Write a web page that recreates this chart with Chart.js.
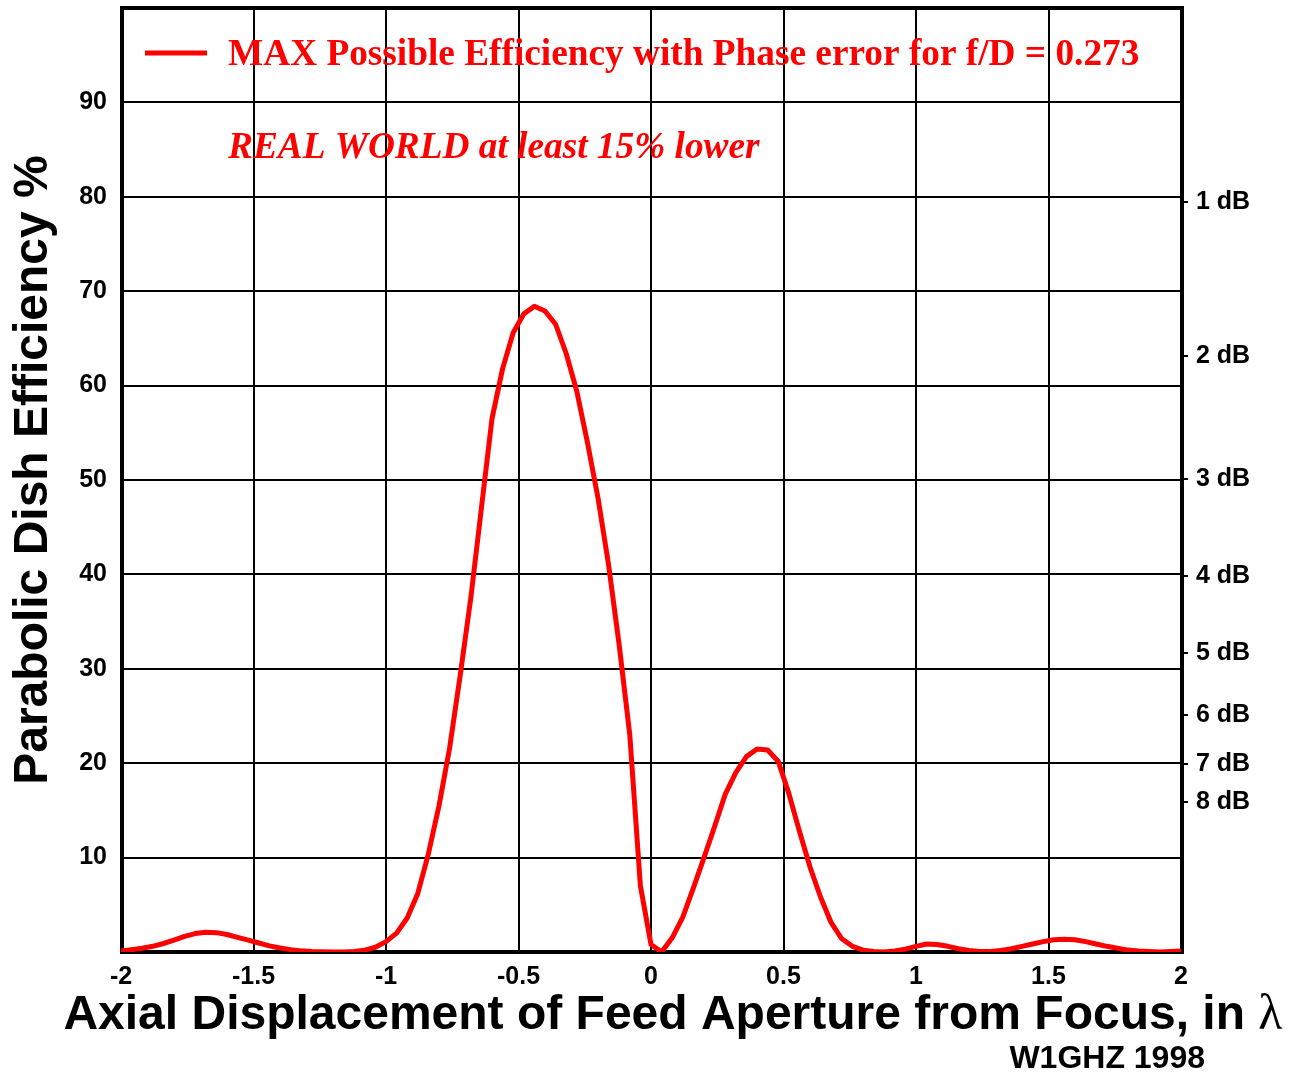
<!DOCTYPE html>
<html>
<head>
<meta charset="utf-8">
<title>Parabolic Dish Efficiency vs Axial Feed Displacement</title>
<script src="https://cdn.jsdelivr.net/npm/chart.js@4.4.0/dist/chart.umd.min.js"></script>
<style>
  html, body { margin: 0; padding: 0; background: #ffffff; }
  #wrap { width: 1301px; height: 1074px; }
</style>
</head>
<body>
<div id="wrap"><canvas id="chart" width="1301" height="1074"></canvas></div>
<script>
// Axial displacement of the feed aperture from focus, in wavelengths
const displacement = [
  -2, -1.96, -1.92, -1.88, -1.84, -1.8, -1.76, -1.72, -1.68, -1.64,
  -1.6, -1.56, -1.52, -1.48, -1.44, -1.4, -1.36, -1.32, -1.28, -1.24,
  -1.2, -1.16, -1.12, -1.08, -1.04, -1, -0.96, -0.92, -0.88, -0.84,
  -0.8, -0.76, -0.72, -0.68, -0.64, -0.6, -0.56, -0.52, -0.48, -0.44,
  -0.4, -0.36, -0.32, -0.28, -0.24, -0.2, -0.16, -0.12, -0.08, -0.04,
  0, 0.04, 0.08, 0.12, 0.16, 0.2, 0.24, 0.28, 0.32, 0.36,
  0.4, 0.44, 0.48, 0.52, 0.56, 0.6, 0.64, 0.68, 0.72, 0.76,
  0.8, 0.84, 0.88, 0.92, 0.96, 1, 1.04, 1.08, 1.12, 1.16,
  1.2, 1.24, 1.28, 1.32, 1.36, 1.4, 1.44, 1.48, 1.52, 1.56,
  1.6, 1.64, 1.68, 1.72, 1.76, 1.8, 1.84, 1.88, 1.92, 1.96, 2
];

// Maximum possible dish efficiency (%) at each displacement
const efficiency = [
  0.1, 0.25, 0.4, 0.6, 0.9, 1.25, 1.65, 1.95, 2.1, 2.05,
  1.85, 1.55, 1.25, 0.95, 0.65, 0.42, 0.25, 0.12, 0.05, 0.02,
  0, 0, 0.05, 0.2, 0.5, 1.1, 2.0, 3.6, 6.2, 10.4,
  15.5, 21.6, 29.3, 37.5, 47.0, 56.5, 61.8, 65.6, 67.6, 68.4,
  67.9, 66.5, 63.4, 59.4, 54.0, 48.1, 41.0, 32.5, 23.0, 7.0,
  0.8, 0.0, 1.5, 3.7, 6.8, 10.0, 13.3, 16.7, 19.0, 20.7,
  21.5, 21.4, 20.2, 16.8, 12.8, 9.0, 5.8, 3.1, 1.4, 0.6,
  0.2, 0.05, 0.0, 0.1, 0.3, 0.6, 0.85, 0.8, 0.6, 0.35,
  0.15, 0.05, 0.05, 0.15, 0.35, 0.6, 0.85, 1.1, 1.3, 1.35,
  1.3, 1.1, 0.85, 0.6, 0.4, 0.2, 0.1, 0.05, 0.0, 0.05, 0.1
];

const xTickValues = [-2, -1.5, -1, -0.5, 0, 0.5, 1, 1.5, 2];
const yTickValues = [10, 20, 30, 40, 50, 60, 70, 80, 90];
const dbLevels = [1, 2, 3, 4, 5, 6, 7, 8];

const seriesLabel = 'MAX Possible Efficiency with Phase error for f/D = 0.273';
const noteText = 'REAL WORLD at least 15% lower';
const yTitleText = 'Parabolic Dish Efficiency %';
const xTitleText = 'Axial Displacement of Feed Aperture from Focus, in ';
const xTitleSymbol = '\u03BB';
const creditText = 'W1GHZ 1998';

const SANS = '"Liberation Sans", Arial, Helvetica, sans-serif';
const SERIF = '"Liberation Serif", "Times New Roman", Times, serif';

const points = displacement.map((x, i) => ({ x: x, y: efficiency[i] }));

// Efficiency (%) matching a loss of n dB, used to place the right-hand labels
const dbPositions = dbLevels.map(db => 100 * Math.pow(10, -db / 10));

// Thick frame around the plot, drawn under the curve
const framePlugin = {
  id: 'frame',
  beforeDatasetsDraw(chart) {
    const { ctx, chartArea: a } = chart;
    ctx.save();
    ctx.strokeStyle = '#000';
    ctx.lineWidth = 4;
    ctx.strokeRect(a.left + 1, a.top, a.right - a.left, a.bottom - a.top);
    ctx.restore();
  }
};

// In-plot legend entry, note line, axis titles and credit
const annotationPlugin = {
  id: 'annotations',
  afterDraw(chart) {
    const { ctx } = chart;
    const ds = chart.data.datasets[0];
    ctx.save();

    // legend swatch + label
    ctx.strokeStyle = ds.borderColor;
    ctx.lineWidth = 5;
    ctx.beginPath();
    ctx.moveTo(145, 53);
    ctx.lineTo(207, 53);
    ctx.stroke();

    ctx.fillStyle = ds.borderColor;
    ctx.textBaseline = 'alphabetic';
    ctx.textAlign = 'left';
    ctx.font = 'bold 37.3px ' + SERIF;
    ctx.fillText(ds.label, 228, 65);

    ctx.font = 'italic bold 37.3px ' + SERIF;
    ctx.fillText(noteText, 228, 158);

    // y-axis title, rotated
    ctx.fillStyle = '#000';
    ctx.save();
    ctx.translate(47, 470);
    ctx.rotate(-Math.PI / 2);
    ctx.textAlign = 'center';
    ctx.font = 'bold 48px ' + SANS;
    ctx.fillText(yTitleText, 0, 0);
    ctx.restore();

    // x-axis title with a serif lambda
    const mainFont = 'bold 48px ' + SANS;
    const symFont = '50px ' + SERIF;
    ctx.font = mainFont;
    const w1 = ctx.measureText(xTitleText).width;
    ctx.font = symFont;
    const w2 = ctx.measureText(xTitleSymbol).width;
    const startX = 673 - (w1 + w2) / 2;
    ctx.textAlign = 'left';
    ctx.font = mainFont;
    ctx.fillText(xTitleText, startX, 1029);
    ctx.font = symFont;
    ctx.fillText(xTitleSymbol, startX + w1, 1029);

    // credit line
    ctx.font = 'bold 32px ' + SANS;
    ctx.textAlign = 'right';
    ctx.fillText(creditText, 1205, 1068);

    ctx.restore();
  }
};

new Chart(document.getElementById('chart'), {
  type: 'line',
  data: {
    datasets: [{
      label: seriesLabel,
      data: points,
      borderColor: '#ff0000',
      borderWidth: 5,
      pointRadius: 0,
      tension: 0,
      fill: false,
      borderJoinStyle: 'round',
      borderCapStyle: 'round'
    }]
  },
  options: {
    responsive: false,
    devicePixelRatio: 1,
    animation: false,
    layout: { padding: { left: 0, right: 0, top: 8, bottom: 0 } },
    plugins: {
      legend: { display: false },
      tooltip: { enabled: false }
    },
    scales: {
      x: {
        type: 'linear',
        min: -2,
        max: 2,
        afterBuildTicks(scale) { scale.ticks = xTickValues.map(v => ({ value: v })); },
        afterFit(scale) { scale.height = 122; },
        grid: { color: '#000', lineWidth: 2, drawTicks: false },
        border: { display: false },
        ticks: {
          color: '#000',
          font: { family: SANS, size: 25, weight: 'bold' },
          padding: 10,
          maxRotation: 0,
          autoSkip: false,
          callback: value => String(value)
        }
      },
      y: {
        type: 'linear',
        position: 'left',
        min: 0,
        max: 100,
        afterBuildTicks(scale) { scale.ticks = yTickValues.map(v => ({ value: v })); },
        afterFit(scale) { scale.width = 121; scale.paddingTop = 0; scale.paddingBottom = 0; },
        grid: { color: '#000', lineWidth: 2, drawTicks: false },
        border: { display: false },
        ticks: {
          color: '#000',
          font: { family: SANS, size: 25, weight: 'bold', lineHeight: 0.01 },
          padding: 14,
          autoSkip: false,
          callback: value => String(value)
        }
      },
      y2: {
        type: 'linear',
        position: 'right',
        min: 0,
        max: 100,
        afterBuildTicks(scale) { scale.ticks = dbPositions.map(v => ({ value: v })); },
        afterFit(scale) { scale.width = 120; scale.paddingTop = 0; scale.paddingBottom = 0; },
        grid: { drawOnChartArea: false, drawTicks: true, tickLength: 7, color: '#000', lineWidth: 2 },
        border: { display: false },
        ticks: {
          color: '#000',
          font: { family: SANS, size: 25, weight: 'bold', lineHeight: 0.01 },
          padding: 8,
          autoSkip: false,
          callback: (value, index) => dbLevels[index] + ' dB'
        }
      }
    }
  },
  plugins: [framePlugin, annotationPlugin]
});
</script>
</body>
</html>
